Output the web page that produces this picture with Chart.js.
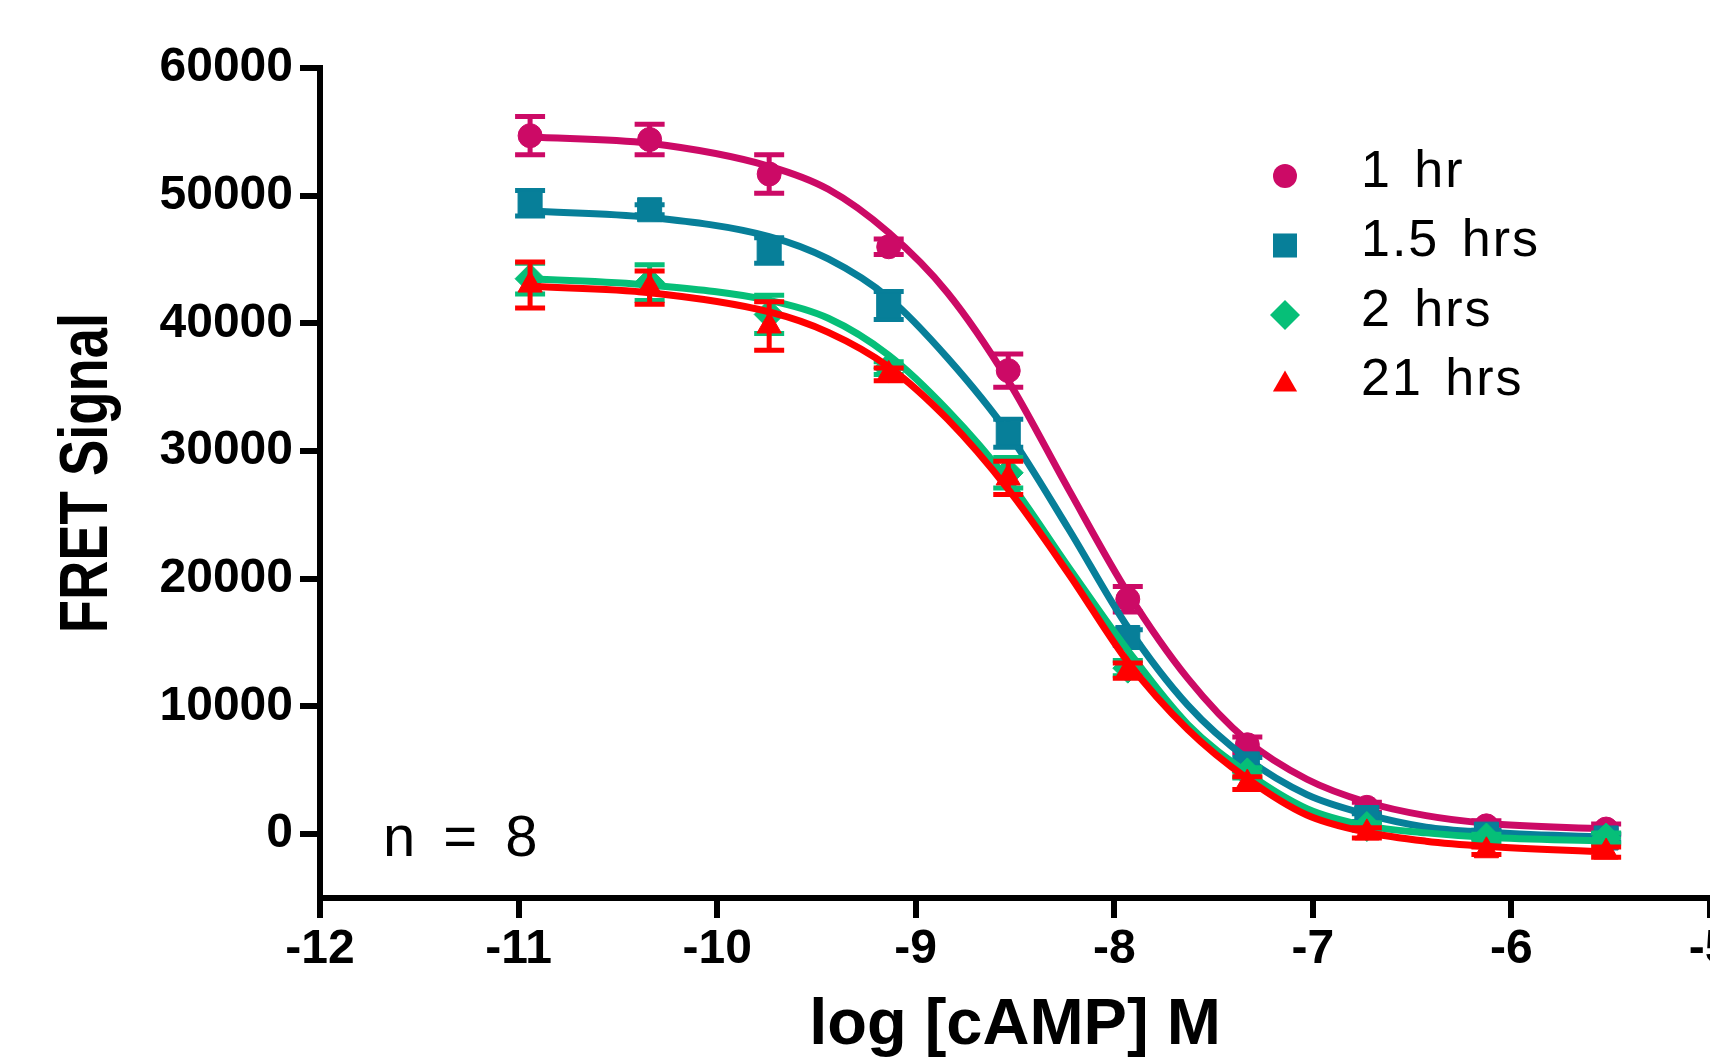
<!DOCTYPE html>
<html>
<head>
<meta charset="utf-8">
<title>FRET Signal vs log [cAMP]</title>
<script src="https://cdn.jsdelivr.net/npm/chart.js@4.4.1/dist/chart.umd.min.js"></script>
<style>
  html, body { margin: 0; padding: 0; background: #fff; overflow: hidden; }
  #wrap { width: 1710px; height: 1057px; overflow: hidden; }
  canvas { display: block; }
</style>
</head>
<body>
<div id="wrap"><canvas id="fret" width="1760" height="1057"></canvas></div>
<script>
// log [cAMP] M for the 4-fold dilution series
const doseLog = [-10.942, -10.340, -9.738, -9.136, -8.534, -7.932, -7.330, -6.728, -6.126, -5.523];

// mean FRET signal and SEM (n = 8) per incubation time
const mean1h  = [54700, 54400, 51700, 46000, 36300, 18400, 7000, 2100, 650, 400];
const sem1h   = [1500, 1200, 1500, 600, 1300, 1000, 600, 400, 400, 400];
const mean15h = [49400, 48900, 45700, 41400, 31400, 15400, 5500, 1300, 0, -300];
const sem15h  = [1000, 400, 1000, 1100, 1100, 600, 500, 300, 300, 300];
const mean2h  = [43500, 43200, 40700, 36500, 28300, 13000, 4800, 600, -300, -300];
const sem2h   = [1200, 1400, 1500, 500, 1200, 600, 400, 300, 300, 400];
const mean21h = [43000, 42800, 39800, 36000, 27900, 12800, 4000, 100, -1300, -1400];
const sem21h  = [1800, 1300, 1900, 500, 1300, 600, 500, 400, 300, 400];

// fitted curves
const fitLog  = [-10.942, -10.34, -9.738, -9.44, -9.136, -8.84, -8.534, -8.23, -7.932, -7.63, -7.33, -7.03, -6.728, -6.43, -6.126, -5.523];
const fit1h   = [54600, 54100, 52300, 50500, 47100, 42400, 35500, 27000, 18900, 12200, 7300, 4300, 2500, 1450, 850, 400];
const fit15h  = [48800, 48300, 46800, 45050, 42000, 37300, 31400, 23900, 16200, 10100, 5900, 3100, 1550, 550, 150, -250];
const fit2h   = [43500, 43000, 41800, 40400, 37500, 33200, 27700, 20900, 14400, 8600, 4800, 2000, 650, 100, -250, -550];
const fit21h  = [42900, 42400, 40900, 39300, 36600, 32500, 27000, 20400, 13500, 8200, 4350, 1500, 150, -550, -950, -1400];

const seriesLabels = ["1 hr", "1.5 hrs", "2 hrs", "21 hrs"];
const xTickValues = [-12, -11, -10, -9, -8, -7, -6, -5];
const yTickValues = [0, 10000, 20000, 30000, 40000, 50000, 60000];

const COLORS = ["#CC0A66", "#077F99", "#06BF78", "#FF0000"];
const STYLES = ["circle", "rect", "rectRot", "triangle"];
const RADII = [12, 17, 15, 14];
const ARIAL = "'Liberation Sans', Arial, sans-serif";

function toXY(xs, ys) {
  return xs.map((x, i) => ({ x: x, y: ys[i] }));
}

// points with error bars
function pointSet(i, means, sems) {
  return {
    label: seriesLabels[i],
    data: toXY(doseLog, means),
    errors: sems,
    showLine: false,
    pointStyle: STYLES[i],
    pointRadius: RADII[i],
    pointBackgroundColor: COLORS[i],
    pointBorderColor: COLORS[i],
    pointBorderWidth: 1,
    order: 7 - i * 2
  };
}

// smooth fitted line
function curveSet(i, fit) {
  return {
    data: toXY(fitLog, fit),
    borderColor: COLORS[i],
    borderWidth: 7,
    pointRadius: 0,
    fill: false,
    cubicInterpolationMode: "monotone",
    order: 8 - i * 2
  };
}

// ERROR BARS (SEM), drawn under each marker
const semBars = {
  id: "semBars",
  beforeDatasetDraw(chart, args) {
    const ds = chart.data.datasets[args.index];
    if (!ds.errors) return;
    const xs = chart.scales.x, ys = chart.scales.y, ctx = chart.ctx;
    ctx.save();
    ctx.strokeStyle = ds.pointBackgroundColor;
    ctx.lineWidth = 5;
    ds.data.forEach((p, i) => {
      const px = xs.getPixelForValue(p.x);
      const hi = ys.getPixelForValue(p.y + ds.errors[i]);
      const lo = ys.getPixelForValue(p.y - ds.errors[i]);
      ctx.beginPath();
      ctx.moveTo(px, hi); ctx.lineTo(px, lo);
      ctx.moveTo(px - 15, hi); ctx.lineTo(px + 15, hi);
      ctx.moveTo(px - 15, lo); ctx.lineTo(px + 15, lo);
      ctx.stroke();
    });
    ctx.restore();
  }
};

// LEGEND, n label and the condensed y title
const plotNotes = {
  id: "plotNotes",
  afterDraw(chart) {
    const ctx = chart.ctx, area = chart.chartArea;
    ctx.save();
    const sets = chart.data.datasets.filter(d => d.label);
    sets.forEach((d, i) => {
      const y = area.top + 108 + i * 69.5;
      ctx.fillStyle = d.pointBackgroundColor;
      Chart.helpers.drawPoint(ctx, { pointStyle: d.pointStyle, radius: d.pointRadius, rotation: 0, borderWidth: 0 }, area.left + 965, y);
      ctx.fillStyle = "#000";
      ctx.font = "52px " + ARIAL;
      ctx.letterSpacing = "2px";
      ctx.wordSpacing = "6px";
      ctx.textBaseline = "middle";
      ctx.textAlign = "left";
      ctx.fillText(d.label, area.left + 1041, y - 3.5);
    });
    ctx.font = "58px " + ARIAL;
    ctx.letterSpacing = "3px";
    ctx.wordSpacing = "6px";
    ctx.textBaseline = "alphabetic";
    ctx.fillText("n = 8", area.left + 63, 856);
    ctx.restore();

    // y axis title: bold, narrower than the tick font
    ctx.save();
    ctx.translate(107, 473);
    ctx.rotate(-Math.PI / 2);
    ctx.scale(0.8, 1);
    ctx.font = "bold 68px " + ARIAL;
    ctx.fillStyle = "#000";
    ctx.textAlign = "center";
    ctx.textBaseline = "alphabetic";
    ctx.fillText("FRET Signal", 0, 0);
    ctx.restore();
  }
};

const tickFont = { family: ARIAL, size: 48, weight: "bold", lineHeight: 1 };

new Chart(document.getElementById("fret"), {
  type: "line",
  data: {
    datasets: [
      pointSet(0, mean1h, sem1h),
      pointSet(1, mean15h, sem15h),
      pointSet(2, mean2h, sem2h),
      pointSet(3, mean21h, sem21h),
      curveSet(0, fit1h),
      curveSet(1, fit15h),
      curveSet(2, fit2h),
      curveSet(3, fit21h)
    ]
  },
  options: {
    responsive: false,
    animation: false,
    devicePixelRatio: 1,
    layout: { padding: { left: 0, top: 68, right: 50, bottom: 0 } },
    plugins: { legend: { display: false }, tooltip: { enabled: false } },
    scales: {
      x: {
        type: "linear",
        min: -12,
        max: -5,
        afterBuildTicks: s => { s.ticks = xTickValues.map(v => ({ value: v })); },
        afterFit: s => { s.height = 159; },
        grid: { drawOnChartArea: false, tickLength: 20, lineWidth: 6, color: "#000" },
        border: { color: "#000", width: 6 },
        ticks: { color: "#000", font: tickFont, padding: 8, maxRotation: 0, autoSkip: false, callback: v => String(v) },
        title: {
          display: true,
          text: "log [cAMP] M",
          color: "#000",
          font: { family: ARIAL, size: 65, weight: "bold", lineHeight: 1 },
          padding: { top: 0, bottom: -2 }
        }
      },
      y: {
        type: "linear",
        min: -5000,
        max: 60000,
        afterBuildTicks: s => { s.ticks = yTickValues.map(v => ({ value: v })); },
        afterFit: s => { s.width = 320; },
        grid: { drawOnChartArea: false, tickLength: 20, lineWidth: 6, color: "#000" },
        border: { color: "#000", width: 6 },
        ticks: { color: "#000", font: tickFont, padding: 7, callback: v => String(v) },
        title: { display: false }
      }
    }
  },
  plugins: [semBars, plotNotes]
});
</script>
</body>
</html>
